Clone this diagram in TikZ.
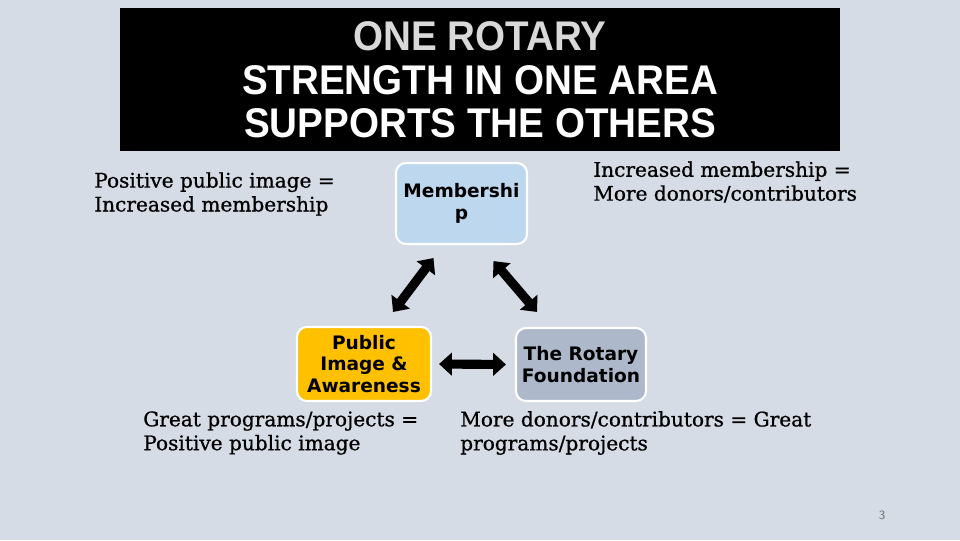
\documentclass[tikz,border=0pt]{standalone}
\usepackage{xcolor}
\usepackage{graphicx}
\usepackage{fontspec}
\setmainfont{DejaVu Serif}
\newfontfamily\remarkfont[FakeBold=0.8]{DejaVu Serif}
\newfontfamily\titlefont{Liberation Sans}
\newfontfamily\boxfont{DejaVu Sans}
\usetikzlibrary{arrows.meta,positioning}

\definecolor{slidebg}{HTML}{D6DCE5}
\definecolor{memblue}{HTML}{BDD7EE}
\definecolor{pubgold}{HTML}{FFC000}
\definecolor{trfgray}{HTML}{ADB9CA}
\definecolor{pagegray}{HTML}{6F6F6F}

\newcommand{\narrow}[1]{\scalebox{0.93}[1]{#1}}

\begin{document}
\begin{tikzpicture}
	[x=0.025cm,y=-0.025cm,
	area/.style={draw=white,line width=1.5pt,rounded corners=0.25cm,inner sep=0pt,align=center,
		font=\boxfont\bfseries\fontsize{13.2}{15.3}\selectfont},
	remark/.style={anchor=west,inner sep=0pt,align=left,font=\remarkfont\fontsize{14.3}{17}\selectfont},
	dblarrow/.style={line width=6.5pt,{Triangle[width=0.56cm,length=0.32cm]}-{Triangle[width=0.56cm,length=0.32cm]}}]

	\fill[slidebg] (0,0) rectangle (960,540);
	\useasboundingbox (0,0) rectangle (960,540);

	% title bar
	\fill[black] (120,8) rectangle (840,151);
	\node[align=center,text=white,font=\titlefont\bfseries\fontsize{29.5}{31}\selectfont] (title) at (480,80)
		{\textcolor[HTML]{D9D9D9}{\narrow{ONE ROTARY}}\\\narrow{STRENGTH IN ONE AREA}\\\narrow{SUPPORTS THE OTHERS}};

	% the three areas
	\node[area,fill=memblue,minimum width=131*0.025cm,minimum height=81*0.025cm] (mem) at (461.5,203.5) {Membershi\\p};
	\node[area,fill=pubgold,minimum width=134*0.025cm,minimum height=74*0.025cm] (pub) at (364,364) {Public\\Image \&\\Awareness};
	\node[area,fill=trfgray,minimum width=130*0.025cm,minimum height=73*0.025cm] (trf) at (581,364.5) {The Rotary\\Foundation};

	\draw[dblarrow] ([shift={(29,-14)}]pub.north) -- ([shift={(-28,13)}]mem.south);
	\draw[dblarrow] ([shift={(32,16)}]mem.south) -- ([shift={(-44,-15)}]trf.north);
	\draw[dblarrow] ([xshift=7*0.025cm]pub.east) -- ([xshift=-9*0.025cm]trf.west);

	% remarks
	\node[remark] (pubmem) at (94,194) {Positive public image =\\Increased membership};
	\node[remark] (memtrf) at (593,182) {Increased membership =\\More donors/contributors};
	\node[remark] (progpub) at (143,433) {Great programs/projects =\\Positive public image};
	\node[remark] (trfprog) at (460,433) {More donors/contributors = Great\\programs/projects};

	\node[text=pagegray,font=\sffamily\fontsize{9}{10}\selectfont] (page) at (882,515) {3};
\end{tikzpicture}
\end{document}
